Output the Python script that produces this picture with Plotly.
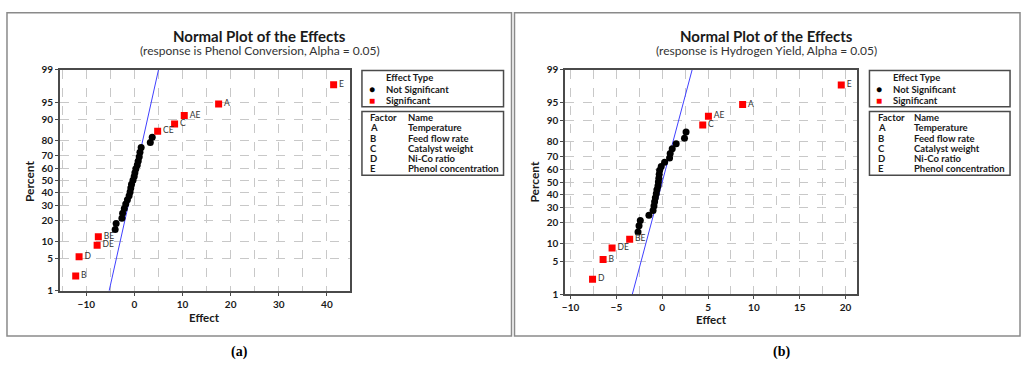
import plotly.graph_objects as go
from statistics import NormalDist

# ---------------- data ----------------
# normal-probability percent of each ranked effect (31 effects, 2^5 design)
percent = [2.2, 5.4, 8.6, 11.8, 15.0, 18.2, 21.3, 24.5, 27.7, 30.9, 34.1,
           37.3, 40.4, 43.6, 46.8, 50.0, 53.2, 56.4, 59.6, 62.7, 65.9, 69.1,
           72.3, 75.5, 78.7, 81.8, 85.0, 88.2, 91.4, 94.6, 97.8]

# panel (a): Phenol Conversion, effects sorted ascending
effects_a = [-12.2, -11.5, -7.75, -7.5, -4.0, -3.8, -2.6, -2.45, -2.1, -1.8,
             -1.45, -1.1, -0.9, -0.75, -0.6, -0.3, -0.05, 0.1, 0.3, 0.6, 0.8,
             1.0, 1.15, 1.4, 3.3, 3.7, 4.83, 8.35, 10.36, 17.5, 41.4]
labels_a = ["B", "D", "DE", "BE"] + [""] * 22 + ["CE", "C", "AE", "A", "E"]
fit_a = [-5.25, 5.0]          # fitted line effect at 1 % and 99 %

# panel (b): Hydrogen Yield, effects sorted ascending
effects_b = [-7.6, -6.45, -5.47, -3.55, -2.64, -2.53, -2.39, -1.45, -1.0, -0.9,
             -0.83, -0.75, -0.65, -0.58, -0.47, -0.42, -0.37, -0.33, -0.28,
             -0.11, 0.26, 0.80, 0.87, 1.09, 1.52, 2.43, 2.6, 4.42, 5.04, 8.77,
             19.53]
labels_b = ["D", "B", "DE", "BE"] + [""] * 23 + ["C", "AE", "A", "E"]
fit_b = [-3.26, 3.26]

fit_percent = [1, 99]
y_ticks = [1, 5, 10, 20, 30, 40, 50, 60, 70, 80, 90, 95, 99]

factors = ["A", "B", "C", "D", "E"]
factor_names = ["Temperature", "Feed flow rate", "Catalyst weight",
                "Ni-Co ratio", "Phenol concentration"]

titles = ["Normal Plot of the Effects", "Normal Plot of the Effects"]
subtitles = ["(response is Phenol Conversion, Alpha = 0.05)",
             "(response is Hydrogen Yield, Alpha = 0.05)"]
captions = ["(a)", "(b)"]

# ---------------- helpers ----------------
W, H = 1024, 371
nd = NormalDist()


def z(p):
    return nd.inv_cdf(p / 100.0)


def px(x, y):
    return x / W, 1 - y / H


FONT = "Lato"
DARK = "#1a1a1a"
LEG = 9.5

fig = go.Figure()


def add_panel(effects, labels, fit, xref, yref):
    # fitted line
    fig.add_trace(go.Scatter(x=fit, y=[z(p) for p in fit_percent], mode="lines",
                             line=dict(color="#4040ff", width=1),
                             xaxis=xref, yaxis=yref, hoverinfo="skip"))
    ns_x = [e for e, l in zip(effects, labels) if l == ""]
    ns_y = [z(p) for p, l in zip(percent, labels) if l == ""]
    s_x = [e for e, l in zip(effects, labels) if l != ""]
    s_y = [z(p) for p, l in zip(percent, labels) if l != ""]
    s_t = [l for l in labels if l != ""]
    fig.add_trace(go.Scatter(x=ns_x, y=ns_y, mode="markers",
                             marker=dict(color="black", size=7, symbol="circle"),
                             xaxis=xref, yaxis=yref))
    fig.add_trace(go.Scatter(x=s_x, y=s_y, mode="markers+text", text=s_t,
                             textposition="middle right",
                             textfont=dict(family=FONT, size=8.5, color="#333333"),
                             marker=dict(color="#ff0000", size=7, symbol="square"),
                             xaxis=xref, yaxis=yref))


add_panel(effects_a, labels_a, fit_a, "x", "y")
add_panel(effects_b, labels_b, fit_b, "x2", "y2")

tickfont = dict(family=FONT, size=10, color=DARK, weight="bold")
ycommon = dict(range=[z(1), z(99)], tickvals=[z(p) for p in y_ticks],
               ticktext=[str(p) for p in y_ticks], showgrid=True,
               gridcolor="#c8c8c8", griddash="dash", gridwidth=1,
               showline=True, linecolor="#4a4a4a", linewidth=1.5, mirror=True,
               ticks="outside", ticklen=3, tickcolor="#4a4a4a",
               tickfont=tickfont, zeroline=False, fixedrange=True)
xcommon = dict(showgrid=True, gridcolor="#c8c8c8", griddash="dash",
               showline=True, linecolor="#4a4a4a", linewidth=1.5, mirror=True,
               ticks="outside", ticklen=3, tickcolor="#4a4a4a",
               tickfont=tickfont, zeroline=False, fixedrange=True)

fig.update_layout(
    width=W, height=H, autosize=False,
    margin=dict(l=0, r=0, t=0, b=0),
    paper_bgcolor="white", plot_bgcolor="white", showlegend=False,
    xaxis=dict(domain=[57 / W, 348 / W], range=[-15.5, 44.8], dtick=10, tick0=0,
               minor=dict(dtick=5, tick0=0, showgrid=True, gridcolor="#c8c8c8",
                          griddash="dash"),
               anchor="y", **xcommon),
    yaxis=dict(domain=[1 - 293.3 / H, 1 - 65 / H], anchor="x", **ycommon),
    xaxis2=dict(domain=[563.7 / W, 857 / W], range=[-10.6, 21.3], dtick=5, tick0=0,
                minor=dict(dtick=2.5, tick0=0, showgrid=True, gridcolor="#c8c8c8",
                           griddash="dash"),
                anchor="y2", **xcommon),
    yaxis2=dict(domain=[1 - 296.8 / H, 1 - 65 / H], anchor="x2", **ycommon),
)

shapes = []
annotations = []


def rect(x0, y0, x1, y1, color, width):
    a0, b0 = px(x0, y0)
    a1, b1 = px(x1, y1)
    shapes.append(dict(type="rect", xref="paper", yref="paper", x0=a0, y0=b1,
                       x1=a1, y1=b0, line=dict(color=color, width=width),
                       fillcolor="rgba(0,0,0,0)", layer="above"))


def text(x, y, s, size, bold=False, anchor="left", color=DARK, family=FONT,
         angle=0):
    a, b = px(x, y)
    annotations.append(dict(x=a, y=b, xref="paper", yref="paper", text=s,
                            showarrow=False, xanchor=anchor, yanchor="middle",
                            textangle=angle,
                            font=dict(family=family, size=size, color=color,
                                      weight="bold" if bold else "normal")))


# outer panel frames
rect(4, 6, 510, 340, "#8a8a8a", 1.5)
rect(513, 6, 1020, 340, "#8a8a8a", 1.5)

panels = [
    dict(cx=257.5, lx=360, rx=502, mark_x=370, txt_x=382, fx=366.5, nx=404.3,
         pcx=26, ecx=202.5, ey=321, cap=(236.7, 356.7)),
    dict(cx=765.5, lx=869, rx=1010, mark_x=879, txt_x=890.5, fx=875.3, nx=912,
         pcx=533, ecx=710.3, ey=323, cap=(780.3, 356.5)),
]

for i, p in enumerate(panels):
    text(p["cx"], 30, titles[i], 15, bold=True, anchor="center")
    text(p["cx"], 44.5, subtitles[i], 12, anchor="center", color="#333333")
    text(p["pcx"], 180, "Percent", 12, bold=True, anchor="center", angle=-90)
    text(p["ecx"], p["ey"], "Effect", 11.5, bold=True, anchor="center")
    # effect type box
    rect(p["lx"], 65.5, p["rx"], 103, "#4a4a4a", 1.5)
    text(p["txt_x"], 73, "Effect Type", LEG, bold=True)
    text(p["mark_x"], 84.8, "●", 10, anchor="center", color="black")
    text(p["txt_x"], 85, "Not Significant", LEG, bold=True)
    text(p["mark_x"], 96.5, "■", 10, anchor="center", color="#ff0000")
    text(p["txt_x"], 97, "Significant", LEG, bold=True)
    # factor box
    rect(p["lx"], 108, p["rx"], 174, "#4a4a4a", 1.5)
    text(p["fx"], 114.5, "Factor", LEG, bold=True)
    text(p["nx"], 114.5, "Name", LEG, bold=True)
    for k, (f, n) in enumerate(zip(factors, factor_names)):
        yy = 125 + k * 10.6
        text(p["fx"], yy, f, LEG, bold=True)
        text(p["nx"], yy, n, LEG, bold=True)
    text(p["cap"][0], p["cap"][1], captions[i], 14, bold=True, anchor="center",
         family="Liberation Serif", color="black")

fig.update_layout(shapes=shapes, annotations=annotations)
fig.write_html("out.html", config={"displayModeBar": False},
               post_script="document.body.style.margin='0';"
                           "document.body.style.padding='0';")
